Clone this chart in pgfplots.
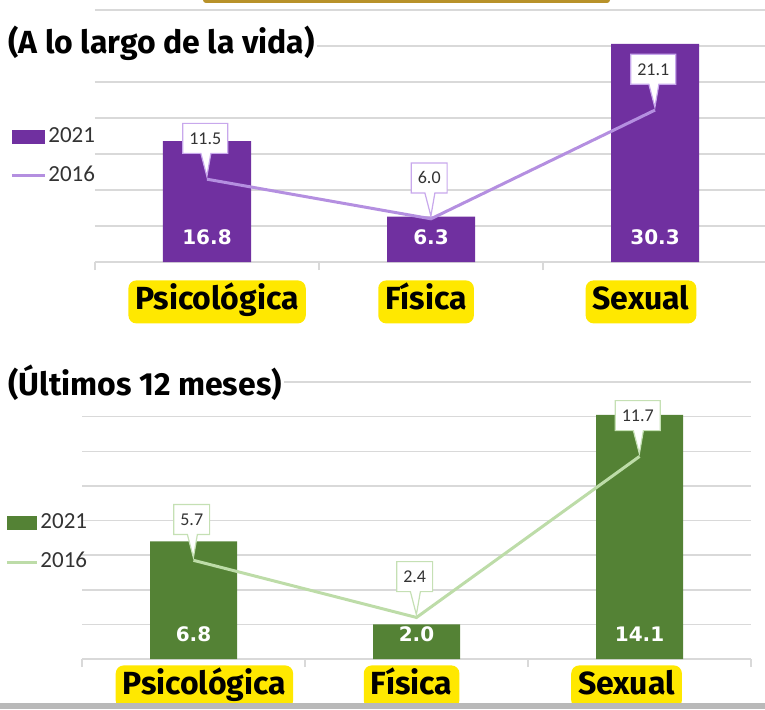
\documentclass[border=0pt]{standalone}
\usepackage{fontspec}
\usepackage{pgfplots}
\pgfplotsset{compat=1.18}
\usetikzlibrary{shapes.callouts}
\setmainfont{Fira Sans}
\newfontfamily\carlito{Carlito}
\newfontfamily\dejavu{DejaVu Sans}
\definecolor{barpurple}{HTML}{7030A0}
\definecolor{linepurple}{HTML}{B48FE0}
\definecolor{boxpurple}{HTML}{C8A8EC}
\definecolor{bargreen}{HTML}{548235}
\definecolor{linegreen}{HTML}{BDDCA8}
\definecolor{boxgreen}{HTML}{C5E0B4}
\definecolor{labelyellow}{HTML}{FFE800}
\definecolor{gridgray}{HTML}{D9D9D9}
\definecolor{txtgray}{HTML}{333333}
\definecolor{goldc}{HTML}{B8922A}
\pgfplotsset{
 panel/.style={
  scale only axis, anchor=south west,
  xmin=-0.5, xmax=2.5, ymin=0,
  axis line style={draw=none},
  ymajorgrids, grid style={gridgray, line width=0.75pt},
  ytick style={draw=none}, yticklabels={},
  xtick pos=left, tick align=outside,
  major x tick style={draw=none},
  minor x tick style={gridgray, line width=0.75pt},
  minor tick length=4pt, major tick length=0pt,
  minor xtick={-0.5,0.5,1.5,2.5},
  xticklabels={Psicológica,Física,Sexual},
  xticklabel style={fill=labelyellow, rounded corners=4pt, font=\bfseries\fontsize{16}{19}\selectfont, text height=12pt, text depth=4pt, inner xsep=3.5pt, inner ysep=2.75pt, anchor=north},
  clip=false,
  legend style={draw=none, fill=none, inner sep=0pt, anchor=west, font=\carlito\fontsize{11.5}{13}\selectfont, text=txtgray, row sep=9pt, nodes={inner xsep=1pt, inner ysep=0pt, text height=8pt, text depth=2.5pt}},
  legend cell align=left,
  /pgf/number format/.cd, fixed, fixed zerofill, precision=1, assume math mode=true,
 },
 barlabels/.style={nodes near coords, visualization depends on={y \as \rawy},
   every node near coord/.append style={shift={(axis direction cs:0,-\rawy)}, anchor=south, inner sep=0pt, yshift=8.5pt, text=white, font=\dejavu\bfseries\fontsize{10}{12}\selectfont}},
 callouts/.style={nodes near coords,
   every node near coord/.append style={rectangle callout, callout relative pointer={(0.5pt,-11.5pt)}, callout pointer width=5pt, anchor=pointer, draw=#1, fill=white, line width=0.6pt, text=txtgray, font=\carlito\fontsize{9}{10}\selectfont, minimum height=15pt, inner xsep=3.25pt, inner ysep=0pt}},
}
\begin{document}
\begin{tikzpicture}
\path[use as bounding box] (0,0) rectangle (382.5pt,354.5pt);
% top panel
\begin{axis}[panel, at={(47.5pt,223.5pt)}, width=336pt, height=126pt,
  ymax=35, ytick={0,5,...,35},
  xtick={0.045,0.978,1.9375},
  xticklabel style={yshift=-9pt},
  legend style={at={(axis description cs:-0.1265,0.4187)}},
]
\addplot[ybar, bar width=44pt, fill=barpurple, draw=none, barlabels,
  legend image code/.code={\fill[barpurple] (0pt,-3.5pt) rectangle (16.5pt,3.5pt);}]
  coordinates {(0,16.8) (1,6.3) (2,30.3)};
\addlegendentry{2021}
\addplot[linepurple, line width=1.5pt, mark=none, callouts=boxpurple,
  legend image code/.code={\draw[linepurple, line width=1.5pt] (0pt,0pt) -- (16.5pt,0pt);}]
  coordinates {(0,11.5) (1,6.0) (2,21.1)};
\addlegendentry{2016}
\end{axis}
% bottom panel
\begin{axis}[panel, at={(41pt,25pt)}, width=334.5pt, height=138.5pt,
  ymax=16, ytick={0,2,...,16},
  xtick={0.049,0.978,1.942},
  xticklabel style={yshift=-3pt},
  legend style={at={(axis description cs:-0.115,0.42)}},
]
\addplot[ybar, bar width=43.5pt, fill=bargreen, draw=none, barlabels,
  legend image code/.code={\fill[bargreen] (0pt,-3.5pt) rectangle (15pt,3.5pt);}]
  coordinates {(0,6.8) (1,2.0) (2,14.1)};
\addlegendentry{2021}
\addplot[linegreen, line width=1.5pt, mark=none, callouts=boxgreen,
  legend image code/.code={\draw[linegreen, line width=1.5pt] (0pt,0pt) -- (15pt,0pt);}]
  coordinates {(0,5.7) (1,2.4) (2,11.7)};
\addlegendentry{2016}
\end{axis}
\node[anchor=west, fill=white, inner xsep=1pt, inner ysep=2pt, font=\bfseries\fontsize{16}{19}\selectfont] at (3pt,333pt) {(A lo largo de la vida)};
\node[anchor=west, fill=white, inner xsep=1pt, inner ysep=2pt, font=\bfseries\fontsize{16}{19}\selectfont] at (3pt,163pt) {(Últimos 12 meses)};
\fill[goldc, rounded corners=1.5pt] (101.5pt,353pt) rectangle (305pt,357pt);
\fill[gray!55] (0,0) rectangle (382.5pt,3pt);
\end{tikzpicture}
\end{document}
